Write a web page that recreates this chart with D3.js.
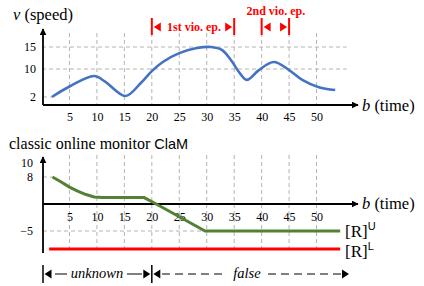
<!DOCTYPE html>
<html><head><meta charset="utf-8">
<script src="https://cdn.jsdelivr.net/npm/d3@7"></script>
<style>body{margin:0;background:#fff}svg{display:block}</style>
</head><body>
<svg id="c" width="424" height="286"></svg>
<script>
// ---- data ----
const xTicks = [5,10,15,20,25,30,35,40,45,50];
const speedTicks = [2,10,15];
const speedGrid = [10,15];
const speed = [[1.8,2],[5,5],[9.5,8],[11.5,6.4],[15.2,2.3],[18,6],[20,9.4],[22,11.6],[25,13.6],[28,14.7],[30.8,15],[32.8,14.3],[34.6,11.7],[35.8,9.3],[37.3,6.9],[39.5,9.7],[42.2,11.6],[45,9.7],[47.4,6.9],[50.4,4.8],[53.4,4]];
const monTicks = [10,8,-5];
const upper = [[1.9,8],[3.5,6.5],[5,5.0],[6.5,3.8],[8,2.8],[9.5,2.1],[11,1.9],[18.6,1.9],[20.8,0],[29.7,-5],[54.3,-5]];
const lower = [[1.3,-8],[54.3,-8]];
const vio1 = [20,35];
const vio2 = [40,45];
const verdictSplit = 20;

(function(){
const svg = d3.select("#c");
const SERIF = "Liberation Serif";
const SANS = "Liberation Sans";
const grey = "#b4b4b4";
const red = "#ff0000";

const x = d3.scaleLinear().domain([0,55]).range([42,344]);
const yT = d3.scaleLinear().domain([0,2,10,15,18]).range([105,97,69,47,33.8]);
const yB = d3.scaleLinear().domain([-8,-5,0,8,10,11]).range([249,231,204,177,163,158]);

const defs = svg.append("defs");
defs.append("marker").attr("id","ah").attr("viewBox","0 0 10 10").attr("refX",9).attr("refY",5)
  .attr("markerWidth",7).attr("markerHeight",7).attr("markerUnits","userSpaceOnUse").attr("orient","auto")
  .append("path").attr("d","M0,0L10,5L0,10Z").attr("fill","#000");

function tri(g, px, py, dir, col){
  const w=7,h=4.5;
  g.append("path").attr("d", dir<0 ? `M${px},${py}L${px+w},${py-h}L${px+w},${py+h}Z` : `M${px},${py}L${px-w},${py-h}L${px-w},${py+h}Z`)
   .attr("fill", col||"#000");
}
function styleAxis(a){
  a.attr("font-family",SERIF).attr("font-size",12);
  a.select(".domain").remove();
  a.selectAll("text").style("font-family",SERIF).style("font-size","12px").attr("fill","#000");
}

// ============ TOP CHART ============
const gt = svg.append("g");
gt.append("g").selectAll("line").data(xTicks).join("line")
  .attr("x1",d=>x(d)).attr("x2",d=>x(d)).attr("y1",33).attr("y2",yT(0))
  .attr("stroke",grey).attr("stroke-dasharray","4,3");
gt.append("g").selectAll("line").data(speedGrid).join("line")
  .attr("x1",x(0)).attr("x2",x(55.5)).attr("y1",d=>yT(d)).attr("y2",d=>yT(d))
  .attr("stroke",grey).attr("stroke-dasharray","4,3");
gt.append("line").attr("x1",43).attr("x2",x(speed[0][0])).attr("y1",yT(2)).attr("y2",yT(2))
  .attr("stroke",grey).attr("stroke-dasharray","4,3");
const axT = gt.append("g").attr("transform",`translate(0,${yT(0)})`)
  .call(d3.axisBottom(x).tickValues(xTicks).tickSize(0).tickPadding(7));
styleAxis(axT);
const ayT = gt.append("g").attr("transform",`translate(36,0)`)
  .call(d3.axisLeft(yT).tickValues(speedTicks).tickSize(0).tickPadding(0));
styleAxis(ayT);
gt.append("line").attr("x1",43).attr("x2",43).attr("y1",yT(0)).attr("y2",29)
  .attr("stroke","#000").attr("stroke-width",1.8).attr("marker-end","url(#ah)");
gt.append("line").attr("x1",43).attr("x2",358).attr("y1",yT(0)).attr("y2",yT(0))
  .attr("stroke","#000").attr("stroke-width",1.8).attr("marker-end","url(#ah)");
gt.append("path").datum(speed)
  .attr("d", d3.line().x(d=>x(d[0])).y(d=>yT(d[1])).curve(d3.curveCatmullRom.alpha(0.5)))
  .attr("fill","none").attr("stroke","#4472c4").attr("stroke-width",2.6);
const tl = gt.append("text").attr("x",13).attr("y",20).style("font-family",SERIF).style("font-size","16.5px");
tl.append("tspan").attr("font-style","italic").text("v");
tl.append("tspan").text(" (speed)");
const bl = gt.append("text").attr("x",362).attr("y",111).style("font-family",SERIF).style("font-size","16.5px");
bl.append("tspan").attr("font-style","italic").text("b");
bl.append("tspan").text(" (time)");

const ann = gt.append("g");
[...vio1, ...vio2].forEach(v=>{
  ann.append("line").attr("x1",x(v)).attr("x2",x(v)).attr("y1",18).attr("y2",35).attr("stroke",red).attr("stroke-width",2);
});
tri(ann, x(vio1[0])+2, 27, -1, red);
tri(ann, x(vio1[1])-2, 27, 1, red);
tri(ann, x(vio2[0])+2, 27, -1, red);
tri(ann, x(vio2[1])-2, 27, 1, red);
ann.append("text").attr("x",(x(vio1[0])+x(vio1[1]))/2+1).attr("y",31).attr("text-anchor","middle")
  .style("font-family",SERIF).attr("font-weight","bold").style("font-size","12px").attr("fill",red).text("1st vio. ep.");
ann.append("text").attr("x",(x(vio2[0])+x(vio2[1]))/2+0.5).attr("y",15).attr("text-anchor","middle")
  .style("font-family",SERIF).attr("font-weight","bold").style("font-size","12px").attr("fill",red).text("2nd vio. ep.");

// ============ BOTTOM CHART ============
const bot = svg.append("g");
const tt = bot.append("text").attr("x",9).attr("y",149).style("font-family",SERIF).style("font-size","16px");
tt.append("tspan").text("classic online monitor ");
tt.append("tspan").style("font-family",SANS).style("font-size","14.5px").text("ClaM");

bot.append("g").selectAll("line").data(xTicks).join("line")
  .attr("x1",d=>x(d)).attr("x2",d=>x(d)).attr("y1",155).attr("y2",253)
  .attr("stroke",grey).attr("stroke-dasharray","4,3");
bot.append("line").attr("x1",43).attr("x2",x(upper[0][0])).attr("y1",yB(8)).attr("y2",yB(8))
  .attr("stroke",grey).attr("stroke-dasharray","4,3");
bot.append("line").attr("x1",43).attr("x2",x(54.3)).attr("y1",yB(-5)).attr("y2",yB(-5))
  .attr("stroke",grey).attr("stroke-dasharray","4,3");
const axB = bot.append("g").attr("transform",`translate(0,${yB(0)})`)
  .call(d3.axisBottom(x).tickValues(xTicks).tickSize(0).tickPadding(8));
styleAxis(axB);
const ayB = bot.append("g").attr("transform",`translate(33,0)`)
  .call(d3.axisLeft(yB).tickValues(monTicks).tickSize(0).tickPadding(0));
styleAxis(ayB);
bot.append("line").attr("x1",43).attr("x2",43).attr("y1",253).attr("y2",157)
  .attr("stroke","#000").attr("stroke-width",1.8).attr("marker-end","url(#ah)");
bot.append("line").attr("x1",43).attr("x2",358).attr("y1",yB(0)).attr("y2",yB(0))
  .attr("stroke","#000").attr("stroke-width",1.8).attr("marker-end","url(#ah)");
const bl2 = bot.append("text").attr("x",362).attr("y",209).style("font-family",SERIF).style("font-size","16.5px");
bl2.append("tspan").attr("font-style","italic").text("b");
bl2.append("tspan").text(" (time)");

const ln = d3.line().x(d=>x(d[0])).y(d=>yB(d[1]));
bot.append("path").datum(lower).attr("d",ln).attr("fill","none").attr("stroke",red).attr("stroke-width",3);
bot.append("path").datum(upper).attr("d",ln).attr("fill","none").attr("stroke","#548235").attr("stroke-width",3);

function rLabel(yy, sup){
  const t = bot.append("text").attr("x",345).attr("y",yy).style("font-family",SERIF).style("font-size","17px");
  t.append("tspan").text("[R]");
  t.append("tspan").style("font-family",SANS).style("font-size","11px").attr("dy",-7).text(sup);
}
rLabel(237, "U");
rLabel(257, "L");

const vg = bot.append("g");
const vy = 274;
const x0 = 43, xs = x(verdictSplit), xe = 349;
vg.append("line").attr("x1",x0).attr("x2",x0).attr("y1",265).attr("y2",283).attr("stroke","#000").attr("stroke-width",1.5);
vg.append("line").attr("x1",xs).attr("x2",xs).attr("y1",265).attr("y2",283).attr("stroke","#000").attr("stroke-width",1.5);
tri(vg, x0+1.5, vy, -1);
tri(vg, xs-1.5, vy, 1);
tri(vg, xs+1.5, vy, -1);
tri(vg, xe, vy, 1);
vg.append("line").attr("x1",55).attr("x2",67).attr("y1",vy).attr("y2",vy).attr("stroke","#000").attr("stroke-width",1);
vg.append("line").attr("x1",127).attr("x2",142).attr("y1",vy).attr("y2",vy).attr("stroke","#000").attr("stroke-width",1);
vg.append("text").attr("x",97).attr("y",vy+4).attr("text-anchor","middle").style("font-family",SERIF)
  .attr("font-style","italic").style("font-size","14.5px").text("unknown");
vg.append("line").attr("x1",162).attr("x2",226).attr("y1",vy).attr("y2",vy).attr("stroke","#000").attr("stroke-width",1).attr("stroke-dasharray","8,5");
vg.append("line").attr("x1",268).attr("x2",342).attr("y1",vy).attr("y2",vy).attr("stroke","#000").attr("stroke-width",1).attr("stroke-dasharray","8,5");
vg.append("text").attr("x",247).attr("y",vy+4).attr("text-anchor","middle").style("font-family",SERIF)
  .attr("font-style","italic").style("font-size","14.5px").text("false");
})();
</script>
</body></html>
